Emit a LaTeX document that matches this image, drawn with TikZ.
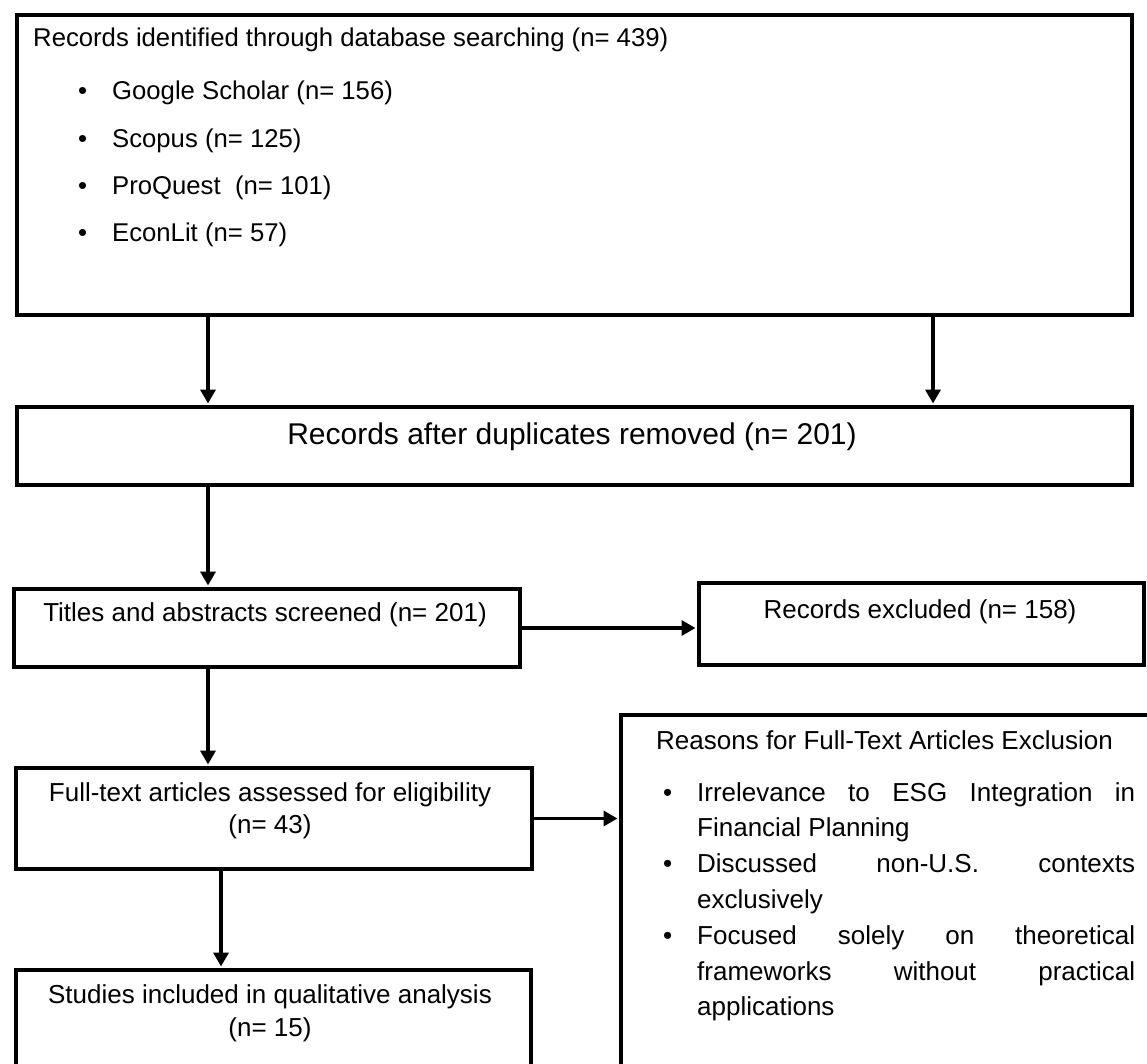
\documentclass[tikz,border=0pt]{standalone}
\usepackage{fontspec}
\setmainfont{Liberation Sans}
\usetikzlibrary{arrows.meta, positioning, calc}
\tikzset{
  frame/.style={rectangle, draw=black, line width=4pt, inner sep=0pt,
    anchor=north west},
  arrow/.style={-{Triangle[length=14pt,width=15pt]}, line width=3.5pt,
    shorten >=1.5pt, draw=#1},
  arrow/.default=black,
  txt/.style={inner sep=0pt, align=center,
    font=\fontsize{26}{33}\selectfont}
}
% bullet lines of the reasons box (justified by hand)
\newcommand{\rbul}{\makebox[34pt][l]{\textbullet}}
\newcommand{\rind}{\hspace*{34pt}}
\newcommand{\rjust}[1]{\makebox[438pt][s]{#1}}
\newcommand{\sitem}[1]{\hspace*{45pt}\makebox[34pt][l]{\textbullet}#1}

\begin{document}
\begin{tikzpicture}[x=1pt, y=-1pt]
  \useasboundingbox (0,0) rectangle (1147,1063);
  % boxes
  \node[frame, minimum width=1115pt, minimum height=300pt] (search) at (15,13) {};
  \node[frame, minimum width=1115pt, minimum height=78pt] (dups) at (15,405) {};
  \node[frame, minimum width=506pt, minimum height=78pt] (titles) at (12,587) {};
  \node[frame, minimum width=445pt, minimum height=82pt] (excluded) at (697,581) {};
  \node[frame, minimum width=516pt, minimum height=101pt] (fulltext) at (14,766) {};
  \node[frame, line width=3.5pt, minimum width=590pt, minimum height=420pt]
    (reasons) at (619,713) {};
  \node[frame, minimum width=515pt, minimum height=160pt] (studies) at (14,968) {};

  % texts
  \node[txt, align=left, anchor=north west,
        font=\fontsize{25.7}{47.3}\selectfont] (searchtxt) at (33,28)
    {Records identified through database searching (n= 439)\\[5.7pt]
     \sitem{Google Scholar (n= 156)}\\
     \sitem{Scopus (n= 125)}\\
     \sitem{ProQuest\ \ (n= 101)}\\
     \sitem{EconLit (n= 57)}};
  \node[txt, font=\fontsize{30}{36}\selectfont] (dupstxt) at (572,437)
    {Records after duplicates removed (n= 201)};
  \node[txt] (titlestxt) at (265,615) {Titles and abstracts screened (n= 201)};
  \node[txt] (excltxt) at (920,612) {Records excluded (n= 158)};
  \node[txt, font=\fontsize{26}{32.5}\selectfont] (fulltxt) at (270,811)
    {Full-text articles assessed for eligibility\\(n= 43)};
  \node[txt] (studytxt) at (270,1013)
    {Studies included in qualitative analysis\\(n= 15)};
  \node[txt, anchor=north west] (reasonhead) at (656,730)
    {Reasons for Full-Text Articles Exclusion};
  \node[txt, align=left, anchor=north west,
        font=\fontsize{26}{35.8}\selectfont] (reasonlist) at (663,782)
    {\rbul\rjust{Irrelevance to ESG Integration in}\\
     \rind Financial Planning\\
     \rbul\rjust{Discussed non-U.S. contexts}\\
     \rind exclusively\\
     \rbul\rjust{Focused solely on theoretical}\\
     \rind\rjust{frameworks without practical}\\
     \rind applications};

  % connectors
  \coordinate (colA) at (208,0);
  \coordinate (colB) at (933,0);
  \coordinate (colC) at (221,0);
  \draw[arrow] (colA |- search.south) -- (colA |- dups.north);
  \draw[arrow] (colB |- search.south) -- (colB |- dups.north);
  \draw[arrow] (colA |- dups.south) -- (colA |- titles.north);
  \draw[arrow] (titles.east) -- (titles.east -| excluded.west);
  \draw[arrow] (colA |- titles.south) -- (colA |- fulltext.north);
  \draw[arrow] (fulltext.east) -- (fulltext.east -| reasons.west);
  \draw[arrow] (colC |- fulltext.south) -- (colC |- studies.north);
\end{tikzpicture}
\end{document}
